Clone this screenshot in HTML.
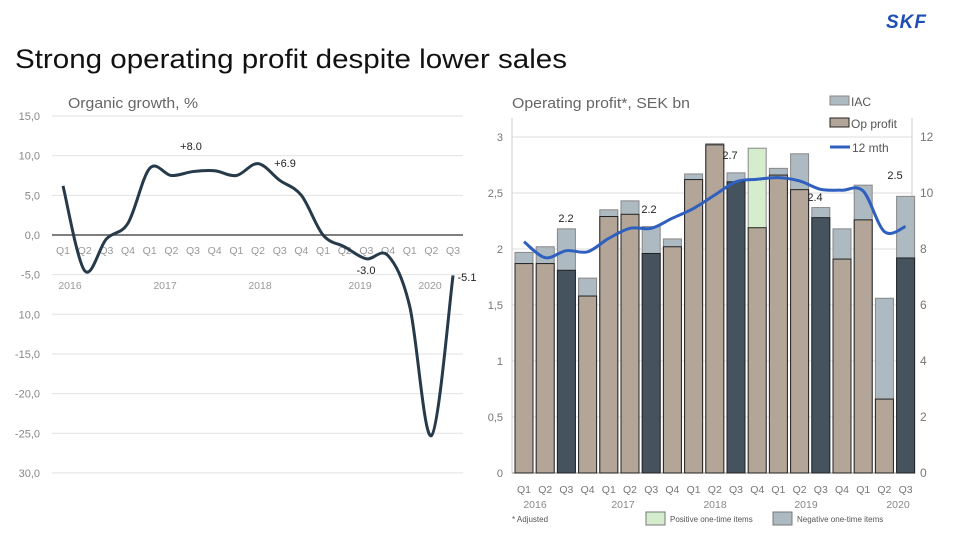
<!DOCTYPE html>
<html><head><meta charset="utf-8"><style>
body{margin:0;background:#fff;width:960px;height:540px;overflow:hidden;font-family:"Liberation Sans",sans-serif}
svg text{font-family:"Liberation Sans",sans-serif}
</style></head><body>
<svg id="s" width="960" height="540" viewBox="0 0 960 540" xmlns="http://www.w3.org/2000/svg">
<text x="15" y="68" font-size="27" fill="#111" textLength="552" lengthAdjust="spacingAndGlyphs">Strong operating profit despite lower sales</text>
<text x="886" y="28" font-size="19" font-weight="bold" font-style="italic" fill="#1f4fb5" letter-spacing="1">SKF</text>
<text x="68" y="108" font-size="15" fill="#666" textLength="130" lengthAdjust="spacingAndGlyphs">Organic growth, %</text>
<text x="512" y="108" font-size="15" fill="#666" textLength="178" lengthAdjust="spacingAndGlyphs">Operating profit*, SEK bn</text>
<g id="left"></g>
<g id="right"></g>
</svg>
<script>
const quarters=["Q1","Q2","Q3","Q4","Q1","Q2","Q3","Q4","Q1","Q2","Q3","Q4","Q1","Q2","Q3","Q4","Q1","Q2","Q3"];
const growth=[6.2,-4.5,-0.5,1.5,8.4,7.5,8.0,8.1,7.5,9.0,6.9,5.0,0.0,-1.5,-3.0,-2.6,-9.0,-25.3,-5.1];
const growthTicks=[15,10,5,0,-5,-10,-15,-20,-25,-30];
const growthTickLabels=["15,0","10,0","5,0","0,0","-5,0","10,0","-15,0","-20,0","-25,0","30,0"];
const opProfit=[1.87,1.87,1.81,1.58,2.29,2.31,1.96,2.02,2.62,2.93,2.60,2.19,2.66,2.53,2.28,1.91,2.26,0.66,1.92];
const opTotal=[1.97,2.02,2.18,1.74,2.35,2.43,2.20,2.09,2.67,2.94,2.68,2.90,2.72,2.85,2.37,2.18,2.57,1.56,2.47];
const positiveIAC=[0,0,0,0,0,0,0,0,0,0,0,1,0,0,0,0,0,0,0];
const darkQ=[0,0,1,0,0,0,1,0,0,0,1,0,0,0,1,0,0,0,1];
const rolling=[8.26,7.69,7.94,7.90,8.38,8.74,8.74,9.1,9.45,9.93,10.4,10.49,10.55,10.43,10.13,10.1,10.07,8.62,8.8];
const leftTicks=[0,0.5,1,1.5,2,2.5,3];
const leftTickLabels=["0","0,5","1","1,5","2","2,5","3"];
const rightTicks=[0,2,4,6,8,10,12];
const NS="http://www.w3.org/2000/svg";
function mk(p,t,a,txt){const e=document.createElementNS(NS,t);for(const k in a)e.setAttribute(k,a[k]);if(txt!==undefined)e.textContent=txt;p.appendChild(e);return e;}
function smooth(pts){let d="M"+pts[0][0]+","+pts[0][1];for(let i=0;i<pts.length-1;i++){const p0=pts[Math.max(0,i-1)],p1=pts[i],p2=pts[i+1],p3=pts[Math.min(pts.length-1,i+2)];const c1=[p1[0]+(p2[0]-p0[0])/6,p1[1]+(p2[1]-p0[1])/6],c2=[p2[0]-(p3[0]-p1[0])/6,p2[1]-(p3[1]-p1[1])/6];d+=" C"+c1+" "+c2+" "+p2;}return d;}
// LEFT
const L=document.getElementById('left');
const gy=v=>235-v*7.93, gx=i=>63+i*21.67;
growthTicks.forEach((t,i)=>{
 let e=mk(L,'line',{x1:52,x2:463,y1:gy(t),y2:gy(t),stroke:t===0?'#555':'#e2e2e2','stroke-width':t===0?1.5:1});
 
 e=mk(L,'text',{x:40,y:gy(t)+4,'font-size':11,fill:'#888','text-anchor':'end'},growthTickLabels[i]);
 
});
quarters.forEach((q,i)=>{const e=mk(L,'text',{x:gx(i),y:254,'font-size':10.5,fill:'#999','text-anchor':'middle'},q);
 });
[["2016",70],["2017",165],["2018",260],["2019",360],["2020",430]].forEach(([t,x])=>{const e=mk(L,'text',{x:x,y:289,'font-size':10.5,fill:'#999','text-anchor':'middle'},t);
 });
let gl=mk(L,'path',{d:smooth(growth.map((v,i)=>[gx(i),gy(v)])),fill:'none',stroke:'#263a4a','stroke-width':3});

[["+8.0",191,150],["+6.9",285,167],["-3.0",366,274],["-5.1",467,281]].forEach(([t,x,y])=>{const e=mk(L,'text',{x:x,y:y,'font-size':11,fill:'#222','text-anchor':'middle'},t);
 });
// RIGHT
const R=document.getElementById('right');
const ry=v=>473-v*112, rx=i=>524+i*21.2, r2y=v=>473-v*28;
leftTicks.forEach((t,i)=>{
 let e=mk(R,'line',{x1:512,x2:912,y1:ry(t),y2:ry(t),stroke:t===0?'#888':'#ddd','stroke-width':1});
 
 e=mk(R,'text',{x:503,y:ry(t)+4,'font-size':11,fill:'#777','text-anchor':'end'},leftTickLabels[i]);
 
});
rightTicks.forEach(t=>{const e=mk(R,'text',{x:920,y:r2y(t)+4,'font-size':12,fill:'#777'},String(t));
 });
mk(R,'line',{x1:512,x2:512,y1:118,y2:473,stroke:'#ccc'});
mk(R,'line',{x1:912,x2:912,y1:118,y2:473,stroke:'#ccc'});
opProfit.forEach((v,i)=>{
 const x=rx(i)-9;
 let e=mk(R,'rect',{x:x,y:ry(opTotal[i]),width:18,height:ry(0)-ry(opTotal[i]),fill:positiveIAC[i]?'#d6edcd':'#aebac2',stroke:'#888','stroke-width':1});
 
 e=mk(R,'rect',{x:x,y:ry(v),width:18,height:ry(0)-ry(v),fill:darkQ[i]?'#44535e':'#b3a597',stroke:'#222','stroke-width':1});
 
 e=mk(R,'text',{x:rx(i),y:493,'font-size':10.5,fill:'#777','text-anchor':'middle'},quarters[i]);
 
});
[["2016",535],["2017",623],["2018",715],["2019",806],["2020",898]].forEach(([t,x])=>{const e=mk(R,'text',{x:x,y:508,'font-size':10.5,fill:'#888','text-anchor':'middle'},t);
 });
let rl=mk(R,'path',{d:smooth(rolling.map((v,i)=>[rx(i),r2y(v)])),fill:'none',stroke:'#2f5fbf','stroke-width':3});

[["2.2",566,222],["2.2",649,213],["2.7",730,159],["2.4",815,201],["2.5",895,179]].forEach(([t,x,y])=>{const e=mk(R,'text',{x:x,y:y,'font-size':11,fill:'#222','text-anchor':'middle'},t);
 });
// legend
[["IAC",'#aebac2','#888',101],["Op profit",'#b3a597','#222',123]].forEach(([t,f,s,y])=>{
 let e=mk(R,'rect',{x:830,y:y-5,width:19,height:9,fill:f,stroke:s});
 
 e=mk(R,'text',{x:851,y:y+5,'font-size':12,fill:'#555'},t);
 });
let ll=mk(R,'line',{x1:830,x2:850,y1:147,y2:147,stroke:'#2f5fbf','stroke-width':3});

ll=mk(R,'text',{x:852,y:152,'font-size':12,fill:'#555'},"12 mth");

let a=mk(R,'text',{x:512,y:522,'font-size':8,fill:'#555'},"* Adjusted");

[["Positive one-time items",'#d6edcd',646],["Negative one-time items",'#aebac2',773]].forEach(([t,f,x])=>{
 let e=mk(R,'rect',{x:x,y:512,width:19,height:13,fill:f,stroke:'#777'});
 
 e=mk(R,'text',{x:x+24,y:522,'font-size':8,fill:'#555'},t);
 });
</script>
</body></html>
